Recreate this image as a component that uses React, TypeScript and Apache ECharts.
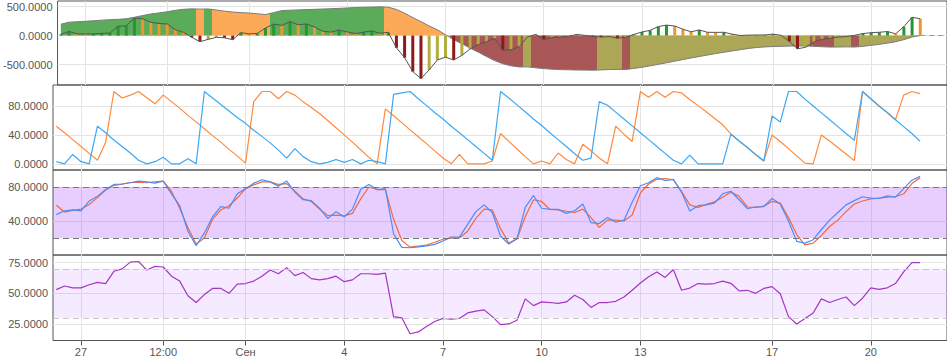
import React, { useEffect, useRef } from 'react';
import * as echarts from 'echarts';

// x values are hours counted from 27 Aug 00:00; samples every 6 hours
const FIRST_HOUR = -18;
const STEP_HOURS = 6;
const X_MIN = -20.4;
const X_MAX = 631.6;

const tickHours = [0, 60, 120, 192, 264, 336, 408, 504, 576];
const tickLabels = ['27', '12:00', 'Сен', '4', '7', '10', '13', '17', '20'];

const macdArea = [
  195, 230, 238, 246, 255, 265, 273, 280, 290, 315,
  345, 372, 390, 410, 435, 452, 460, 455, 458, 440,
  420, 405, 395, 388, 375, 362, 395, 430, 437, 442,
  447, 452, 457, 462, 468, 475, 483, 488, 490, 495,
  488, 450, 385, 310, 240, 165, 100, 15, -70, -140,
  -215, -285, -360, -430, -485, -520, -540, -538, -555, -568,
  -578, -585, -589, -592, -594, -595, -590, -585, -582, -584,
  -565, -545, -520, -495, -468, -440, -412, -385, -360, -335,
  -310, -287, -264, -242, -222, -205, -195, -188, -184, -181,
  -179, -178, -185, -192, -198, -196, -194, -197, -185, -168,
  -150, -130, -105, -70, -25, 0,
];

const macdHist = [
  20, 70, 30, 28, 30, 38, 42, 160, 170, 300,
  290, 228, 208, 200, 100, 57, -30, -105, -65, -30,
  -38, -70, 50, 30, 38, 130, 198, 175, 240, 185,
  200, 150, 75, 60, 95, 62, 35, 60, 80, 40,
  57, -210, -380, -620, -740, -590, -420, -371, -420, -340,
  -230, -155, -105, -50, -250, -245, -190, -25, 20, -65,
  -35, -25, -15, 20, 5, -15, -25, -17, -45, -30,
  20, 62, 90, 155, 180, 165, 110, 65, 97, 57,
  55, 57, 25, 2, 8, 10, 11, 25, 5, -100,
  -228, -200, -110, -65, -45, -25, -17, 5, 35, 50,
  57, 70, 30, 155, 315, 290,
];

const aroonOrange = [
  52, 43, 33.5, 24, 14.5, 5, 30, 100, 91, 95,
  100, 91.5, 83, 95, 86, 77, 67, 58, 48.5, 39,
  30, 20, 11, 1, 86, 100, 100, 90, 100, 95,
  86, 78, 69.5, 60, 50, 40, 30, 19.5, 9, 0,
  76, 66.5, 57, 47, 37.5, 28, 18, 8, 0, 13,
  0, 0, 0, 4, 42, 31, 20.5, 10, 0, 4,
  0, 15, 6, 0, 27, 18, 8, 0, 52, 41,
  31, 100, 92, 100, 92, 100, 98, 89, 80.5, 72,
  63, 54, 41.5, 31.5, 22.5, 13, 4, 40, 31, 21,
  11, 1, 0, 40, 31.5, 22.5, 13.5, 4.5, 100, 90,
  80, 71, 61, 95, 100, 97,
];

const aroonBlue = [
  3, 0, 13, 3, 0, 52, 43, 33, 24, 15,
  5, 0, 3, 9, 0, 0, 7, 0, 100, 91,
  82, 73, 64, 56, 46.5, 38, 29, 19, 8, 21,
  10, 3, 0, 2, 6, 2, 6, 0, 5, 3,
  0, 96, 98, 100, 90, 80.5, 71, 62, 52, 43,
  33.5, 24, 14.5, 5, 100, 91, 81.5, 72, 62, 53,
  43, 33.5, 24, 14, 5, 8, 86, 81, 71.5, 62,
  52.5, 43, 33.5, 24, 14.5, 5, 0, 12, 0, 0,
  0, 0, 41, 31.5, 22.5, 13, 4, 66, 58, 100,
  100, 89.5, 80, 70.5, 61, 51.5, 42, 32.5, 100, 90,
  80, 71, 61, 51.5, 42, 31,
];

const stochBlue = [
  47.5, 52, 53, 52, 63.5, 69, 77, 83, 83.5, 85,
  87, 86, 84.5, 87, 72, 58, 28, 11, 26, 45,
  57, 55, 72, 78, 84.5, 88.5, 86, 81, 87, 74,
  65, 64, 55, 43, 51, 45, 54, 77, 83, 77,
  78, 25, 9, 8.5, 9.5, 10.7, 12.5, 16.5, 21, 21,
  36, 51, 59, 50, 22, 13, 19, 56, 70, 55,
  53.7, 53.7, 49, 52, 60, 38, 37, 44, 38.5, 41,
  62, 81.5, 85, 91, 87.6, 89, 74, 51.8, 58, 59,
  61, 72, 75, 65, 54.5, 56.5, 57, 66.5, 60, 40,
  16, 14, 18, 30, 41, 50, 59, 64, 68.5, 67,
  66.5, 69.5, 68, 78, 88, 92.5,
];

const stochOrange = [
  58.5, 50.5, 52.5, 54, 59.5, 67.5, 76.5, 82, 83.3, 85.3,
  85.7, 85, 86.2, 87, 75, 55, 32, 13, 20, 42,
  53, 58, 67, 78, 82.5, 86, 86, 83, 84, 75,
  66, 63, 54, 46.5, 46.8, 46, 49, 66, 80, 77,
  77, 42, 17, 9.3, 10.5, 11.7, 15, 18.5, 19.7, 20,
  28, 43, 54, 53, 31, 14, 19, 45, 65, 63,
  53.5, 53, 51.5, 50, 54, 44, 32.5, 41, 41, 40,
  47, 73, 83.5, 89, 90, 88.5, 75, 59, 56, 59.5,
  62.5, 68, 74, 69, 56.5, 56, 57.5, 63, 61, 44,
  24, 12, 14, 23, 33.5, 41, 51, 60, 63.5, 66,
  67, 68, 68.5, 72, 84, 91,
];

const rsiValues = [
  53, 56, 54.5, 54.5, 57, 59, 58, 68, 70, 75.5,
  76, 69, 72, 71.5, 64, 60, 48, 42.5, 49, 54,
  54, 50, 57.5, 58, 60, 64, 69, 66, 71, 64.5,
  67, 62, 61, 62, 64, 59.5, 61, 66, 66, 65.5,
  66.5, 31, 30, 17, 18.5, 23, 27, 29.6, 29, 29.5,
  34, 35.5, 36.5, 31, 24.5, 25, 28, 45.5, 40, 43,
  42.5, 41.8, 43, 48.5, 45, 38.5, 42.5, 42.5, 43.5, 47,
  52.5, 58.5, 63.5, 67.5, 63, 69.5, 52.5, 54.3, 58, 57.5,
  58, 60, 58.2, 52, 52.5, 50, 54, 55.5, 49.7, 31,
  25, 29.5, 34, 45.5, 42.5, 45, 47, 40, 46, 54.5,
  53.3, 54.5, 58, 67.5, 75, 75,
];

const stochBand = [20, 80];
const rsiBand = [30, 70];

const hours = macdArea.map((_, i) => FIRST_HOUR + i * STEP_HOURS);
const pairs = (vals: number[]) => vals.map((v, i) => [hours[i], v]);

// 0: positive rising, 1: positive falling, 2: negative falling, 3: negative rising
function trend(vals: number[], i: number): number {
  const v = vals[i];
  const p = i > 0 ? vals[i - 1] : v;
  const up = v >= p;
  return v >= 0 ? (up ? 0 : 1) : up ? 3 : 2;
}

const AREA_COLORS = ['#5aab5a', '#fdaa58', '#a85656', '#aba757'];
const BAR_COLORS = ['#2a962e', '#ef9630', '#901818', '#b2ae3e'];

function areaPieces() {
  const pieces: any[] = [];
  let start = 0;
  const n = macdArea.length;
  for (let i = 1; i <= n; i++) {
    if (i === n || trend(macdArea, i) !== trend(macdArea, start)) {
      const piece: any = { color: AREA_COLORS[trend(macdArea, start)] };
      if (start > 0) piece.gte = hours[start] - STEP_HOURS / 2;
      if (i < n) piece.lt = hours[i] - STEP_HOURS / 2;
      pieces.push(piece);
      start = i;
    }
  }
  return pieces;
}

const FONT = 'Arial, "Liberation Sans", sans-serif';

function buildOption(): any {
  const tops = [1, 85, 170, 255];
  const heights = [84, 85, 85, 85.5];
  const yRanges = [
    [-850, 595],
    [-8.5, 109],
    [0, 100],
    [11.5, 81.3],
  ];
  const yTicks = [[-500, 0, 500], [0, 40, 80], [40, 80], [25, 50, 75]];

  const grid = tops.map((t, k) => ({
    left: 53,
    right: -1,
    top: t,
    height: heights[k],
    show: true,
    borderColor: '#555',
    borderWidth: 1,
    backgroundColor: 'rgba(0,0,0,0)',
  }));

  const xAxis = tops.map((_, k) => ({
    type: 'value',
    gridIndex: k,
    min: X_MIN,
    max: X_MAX,
    axisLine: { show: false },
    axisTick: {
      show: k === 3,
      customValues: tickHours,
      length: 5,
      lineStyle: { color: '#555' },
    },
    axisLabel: {
      show: k === 3,
      customValues: tickHours,
      color: '#555',
      fontSize: 11,
      fontFamily: FONT,
      margin: 6,
      formatter: (v: number) => {
        const idx = tickHours.findIndex((t) => Math.abs(t - v) < 1e-6);
        return idx >= 0 ? tickLabels[idx] : '';
      },
    },
    splitLine: { show: true, lineStyle: { color: '#e4e4e4', width: 1 } },
  }));

  const yAxis = tops.map((_, k) => ({
    type: 'value',
    gridIndex: k,
    min: yRanges[k][0],
    max: yRanges[k][1],
    axisLine: { show: false },
    axisTick: { show: false, customValues: yTicks[k] },
    axisLabel: {
      customValues: yTicks[k],
      color: '#555',
      fontSize: 11,
      fontFamily: FONT,
      margin: 5,
      formatter: (v: number) => v.toFixed(4),
    },
    splitLine: { show: true, lineStyle: { color: '#e4e4e4', width: 1 } },
  }));

  const lastHour = hours[hours.length - 1];

  const series: any[] = [
    {
      type: 'line',
      xAxisIndex: 0,
      yAxisIndex: 0,
      z: 1,
      data: pairs(macdArea),
      showSymbol: false,
      lineStyle: { color: '#7a7a7a', width: 1 },
      areaStyle: { opacity: 1 },
      silent: true,
    },
    {
      type: 'bar',
      xAxisIndex: 0,
      yAxisIndex: 0,
      z: 3,
      barWidth: 3,
      data: macdHist.map((v, i) => ({
        value: [hours[i], v],
        itemStyle: { color: BAR_COLORS[trend(macdHist, i)] },
      })),
      silent: true,
      markLine: {
        silent: true,
        symbol: 'none',
        label: { show: false },
        lineStyle: { color: '#999', type: [5, 4], width: 1 },
        data: [[{ coord: [lastHour, 0] }, { coord: [X_MAX, 0] }]],
      },
    },
    {
      type: 'line',
      xAxisIndex: 0,
      yAxisIndex: 0,
      z: 4,
      data: pairs(macdHist),
      showSymbol: false,
      lineStyle: { color: '#555', width: 1 },
      silent: true,
    },
    {
      type: 'line',
      xAxisIndex: 1,
      yAxisIndex: 1,
      data: pairs(aroonOrange),
      showSymbol: false,
      lineStyle: { color: '#ff8a3d', width: 1.2 },
      silent: true,
    },
    {
      type: 'line',
      xAxisIndex: 1,
      yAxisIndex: 1,
      data: pairs(aroonBlue),
      showSymbol: false,
      lineStyle: { color: '#3aa8f5', width: 1.2 },
      silent: true,
    },
    {
      type: 'line',
      xAxisIndex: 2,
      yAxisIndex: 2,
      data: pairs(stochOrange),
      showSymbol: false,
      lineStyle: { color: '#f4693a', width: 1.2 },
      silent: true,
      markArea: {
        silent: true,
        itemStyle: { color: 'rgba(160,60,255,0.25)' },
        data: [[{ yAxis: stochBand[0] }, { yAxis: stochBand[1] }]],
      },
      markLine: {
        silent: true,
        symbol: 'none',
        label: { show: false },
        lineStyle: { color: '#777', type: [6, 4], width: 1 },
        data: stochBand.map((v) => ({ yAxis: v })),
      },
    },
    {
      type: 'line',
      xAxisIndex: 2,
      yAxisIndex: 2,
      data: pairs(stochBlue),
      showSymbol: false,
      lineStyle: { color: '#4b8df8', width: 1.2 },
      silent: true,
    },
    {
      type: 'line',
      xAxisIndex: 3,
      yAxisIndex: 3,
      data: pairs(rsiValues),
      showSymbol: false,
      lineStyle: { color: '#a535c4', width: 1.2 },
      silent: true,
      markArea: {
        silent: true,
        itemStyle: { color: 'rgba(160,60,255,0.11)' },
        data: [[{ yAxis: rsiBand[0] }, { yAxis: rsiBand[1] }]],
      },
      markLine: {
        silent: true,
        symbol: 'none',
        label: { show: false },
        lineStyle: { color: '#c8c8c8', type: [6, 4], width: 1 },
        data: rsiBand.map((v) => ({ yAxis: v })),
      },
    },
  ];

  return {
    animation: false,
    backgroundColor: '#fff',
    grid,
    xAxis,
    yAxis,
    visualMap: [
      {
        type: 'piecewise',
        show: false,
        seriesIndex: 0,
        dimension: 0,
        pieces: areaPieces(),
      },
    ],
    series,
  };
}

export default function App() {
  const ref = useRef<HTMLDivElement>(null);
  useEffect(() => {
    if (!ref.current) return;
    const chart = echarts.init(ref.current, null, { renderer: 'svg' });
    chart.setOption(buildOption());
    return () => chart.dispose();
  }, []);
  return (
    <div
      ref={ref}
      style={{ position: 'absolute', left: 0, top: 0, width: 947, height: 358 }}
    />
  );
}
